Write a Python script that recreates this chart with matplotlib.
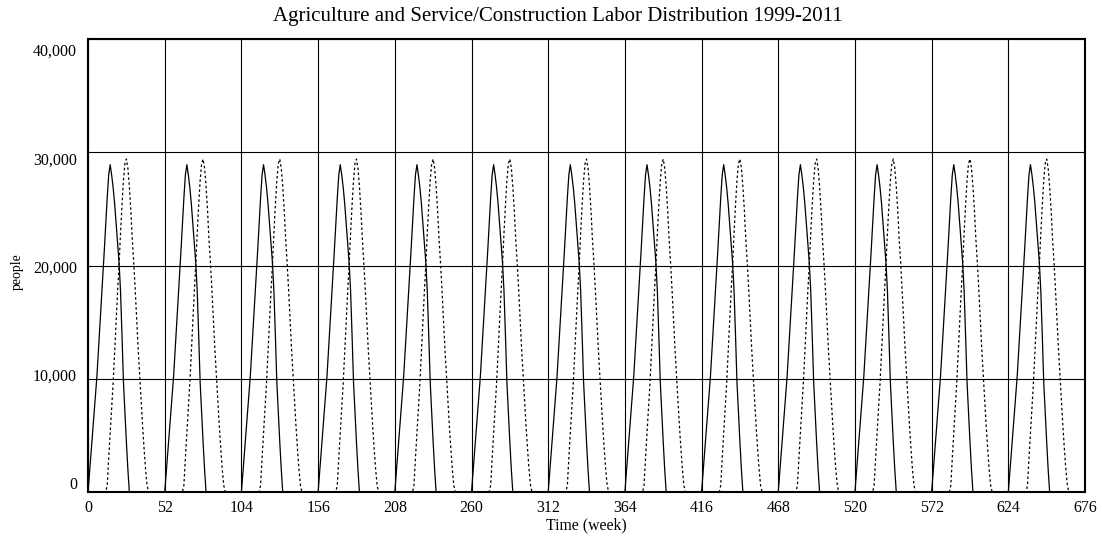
import numpy as np
import matplotlib as mpl
mpl.use("Agg")
import matplotlib.pyplot as plt
import matplotlib.transforms as mtransforms

mpl.rcParams["font.family"] = "Liberation Serif"

# one year (52 weeks) of each series; every year repeats
agri_year = [0, 1700, 3400, 5100, 6800, 8500, 10200, 12400, 14600, 16800,
             19000, 21300, 23700, 26000, 28000, 28900, 28000, 26900, 25500, 23800,
             22000, 20300, 17800, 13900, 9700, 7000, 4400, 2000, 0, 0,
             0, 0, 0, 0, 0, 0, 0, 0, 0, 0,
             0, 0, 0, 0, 0, 0, 0, 0, 0, 0,
             0, 0]
serv_year = [0, 0, 0, 0, 0, 0, 0, 0, 0, 0,
             0, 0, 0, 600, 3000, 5200, 7500, 9600, 12300, 15000,
             17600, 20000, 22800, 25300, 27500, 29000, 29400, 28600, 27000, 24900,
             22300, 20200, 17800, 15200, 12600, 10300, 8000, 5800, 3800, 2000,
             600, 0, 0, 0, 0, 0, 0, 0, 0, 0,
             0, 0]
n_years = 13

agri = np.append(np.tile(agri_year, n_years), 0)
serv = np.append(np.tile(serv_year, n_years), 0)
weeks = np.arange(len(agri))

xticks = list(range(0, 677, 52))
yticks = [0, 10000, 20000, 30000, 40000]

fig = plt.figure(figsize=(11.02, 5.38), dpi=100)
ax = fig.add_axes([0.0799, 0.0855, 0.9047, 0.842])

ax.plot(weeks, agri, color='black', lw=0.9)
ax.plot(weeks, serv, color='black', lw=0.9, linestyle=(0, (2, 2)))

ax.set_xlim(0, 676)
ax.set_ylim(0, 40000)
ax.set_xticks(xticks)
ax.set_yticks(yticks)
ax.set_yticklabels(['{:,}'.format(v) for v in yticks])
ax.tick_params(length=0, labelsize=11.5, pad=8)
ax.tick_params(axis='x', pad=6)
ax.grid(True, color='black', lw=0.8)
ax.set_axisbelow(True)
for sp in ax.spines.values():
    sp.set_linewidth(1.5)

# labels in the original drift slightly from their gridlines
for i, lab in enumerate(ax.get_yticklabels()):
    dy = -9 + 5 * i  # pixels downward
    lab.set_transform(lab.get_transform() +
                      mtransforms.ScaledTranslation(0, -dy / 100.0, fig.dpi_scale_trans))

fig.text(557.5 / 1102, 1 - 17 / 538,
         'Agriculture and Service/Construction Labor Distribution 1999-2011',
         fontsize=15, ha='center', va='center')
ax.set_xlabel('Time (week)', fontsize=11.3, labelpad=1)
fig.text(17 / 1102, 1 - 272 / 538, 'people', fontsize=10, rotation=90,
         ha='center', va='center')

fig.savefig('out.png', dpi=100)
